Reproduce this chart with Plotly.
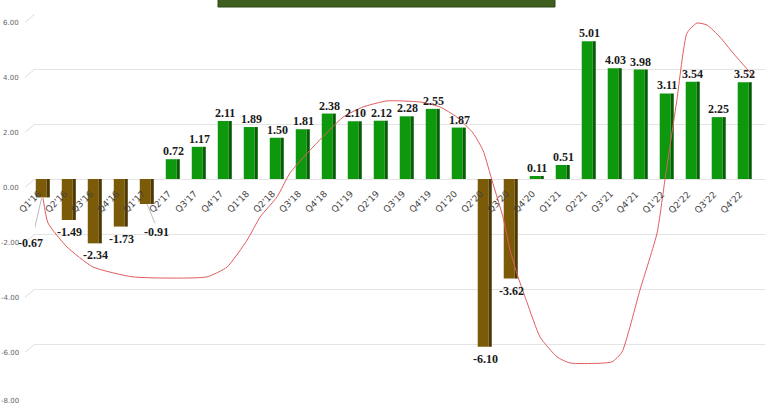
import plotly.graph_objects as go

quarters = ["Q1'16", "Q2'16", "Q3'16", "Q4'16", "Q1'17", "Q2'17", "Q3'17", "Q4'17",
            "Q1'18", "Q2'18", "Q3'18", "Q4'18", "Q1'19", "Q2'19", "Q3'19", "Q4'19",
            "Q1'20", "Q2'20", "Q3'20", "Q4'20", "Q1'21", "Q2'21", "Q3'21", "Q4'21",
            "Q1'22", "Q2'22", "Q3'22", "Q4'22"]
growth = [-0.67, -1.49, -2.34, -1.73, -0.91, 0.72, 1.17, 2.11,
          1.89, 1.50, 1.81, 2.38, 2.10, 2.12, 2.28, 2.55,
          1.87, -6.10, -3.62, 0.11, 0.51, 5.01, 4.03, 3.98,
          3.11, 3.54, 2.25, 3.52]
y_ticks = [6, 4, 2, 0, -2, -4, -6, -8]

# hand-drawn red trend curve (position in quarter index, value)
curve_x = [0.0, 0.19, 0.92, 1.92, 3.46, 6.3, 7.08, 7.85, 8.35, 9.0, 9.5, 10.38,
           11.54, 12.31, 13.23, 14.5, 15.27, 15.92, 16.54, 16.92, 17.3, 17.69,
           17.96, 18.27, 18.62, 19.12, 19.77, 20.27, 21.88, 22.27, 22.96, 23.62,
           23.92, 24.38, 24.77, 25.15, 25.54, 26.04, 26.54, 27.35]
curve_y = [-0.7, -1.6, -2.47, -3.2, -3.56, -3.56, -3.2, -2.22, -1.38, -0.65, 0.22, 1.16,
           2.25, 2.62, 2.84, 2.8, 2.62, 2.25, 1.67, 1.05, -0.15, -1.38,
           -2.58, -3.56, -4.5, -5.75, -6.47, -6.69, -6.65, -6.29, -4.04, -1.96,
           -0.04, 2.87, 5.31, 5.67, 5.6, 5.16, 4.58, 3.71]

idx = list(range(len(quarters)))
POS_FRONT, POS_SIDE = "#0E980E", "#056005"
NEG_FRONT, NEG_SIDE = "#7C5B08", "#4E3905"
front_cols = [POS_FRONT if v >= 0 else NEG_FRONT for v in growth]
side_cols = [POS_SIDE if v >= 0 else NEG_SIDE for v in growth]

fig = go.Figure()
fig.add_trace(go.Bar(x=idx, y=growth, width=0.42, offset=-0.28,
                     marker=dict(color=front_cols, line=dict(width=0)),
                     hoverinfo="skip", showlegend=False))
fig.add_trace(go.Bar(x=idx, y=growth, width=0.12, offset=0.14,
                     marker=dict(color=side_cols, line=dict(width=0)),
                     hoverinfo="skip", showlegend=False))
fig.add_trace(go.Scatter(x=curve_x, y=curve_y, mode="lines",
                         line=dict(color="#E25C5C", width=1, shape="spline", smoothing=0.5),
                         hoverinfo="skip", showlegend=False))

annotations = []
# special label placements (pixel shifts) for crowded bars
special = {0: (-13, -46), 4: (9, -28)}
for i, (q, v) in enumerate(zip(quarters, growth)):
    if i in special:
        xs, ys = special[i]
    else:
        xs, ys = 0, (8 if v >= 0 else -12)
    annotations.append(dict(x=i, y=v, text=f"{v:.2f}", showarrow=False,
                            xshift=xs, yshift=ys, xanchor="center", yanchor="middle",
                            font=dict(family="Liberation Serif", size=12, color="#1a1a1a",
                                      weight="bold")))
    annotations.append(dict(x=i, y=0, text=q, showarrow=False, textangle=-45,
                            xshift=-13, yshift=-23, xanchor="center", yanchor="middle",
                            font=dict(family="DejaVu Sans", size=9, color="#444444")))

for t in y_ticks:
    annotations.append(dict(xref="paper", x=0, y=t, text=f"{t:.2f}", showarrow=False,
                            xanchor="right", yanchor="middle", xshift=-14,
                            yshift=(-9 if t > -8 else -2),
                            font=dict(family="DejaVu Sans", size=7, color="#666666")))

shapes = []
for t in y_ticks:
    shapes.append(dict(type="line", xref="paper", yref="y", x0=-0.0137, x1=0,
                       y0=t - 0.3, y1=t, line=dict(color="#dddddd", width=1)))
# leader lines for moved labels
shapes.append(dict(type="line", xref="x", yref="y", x0=-0.05, x1=-0.35,
                   y0=growth[0], y1=-1.9, line=dict(color="#bbbbbb", width=1)))
shapes.append(dict(type="line", xref="x", yref="y", x0=4.0, x1=4.3,
                   y0=growth[4], y1=-1.6, line=dict(color="#bbbbbb", width=1)))
# top title box (cut off)
shapes.append(dict(type="rect", xref="paper", yref="paper", x0=(218 - 35) / 730,
                   x1=(555 - 35) / 730, y0=(405 - 6 - 7) / 385, y1=1.2,
                   fillcolor="#3E5F1F", line=dict(color="#2e4a14", width=1), layer="above"))

fig.update_layout(
    width=770, height=405,
    margin=dict(l=35, r=5, t=14, b=6),
    paper_bgcolor="white", plot_bgcolor="white",
    barmode="overlay",
    xaxis=dict(range=[-0.31, 27.77], showgrid=False, zeroline=False,
               showticklabels=False, ticks="", showline=False),
    yaxis=dict(range=[-8, 6], tickvals=y_ticks, showticklabels=False,
               gridcolor="#e4e4e4", gridwidth=1, zeroline=True,
               zerolinecolor="#e4e4e4", zerolinewidth=1, showline=False),
    annotations=annotations,
    shapes=shapes,
)

fig.write_html("out.html")
